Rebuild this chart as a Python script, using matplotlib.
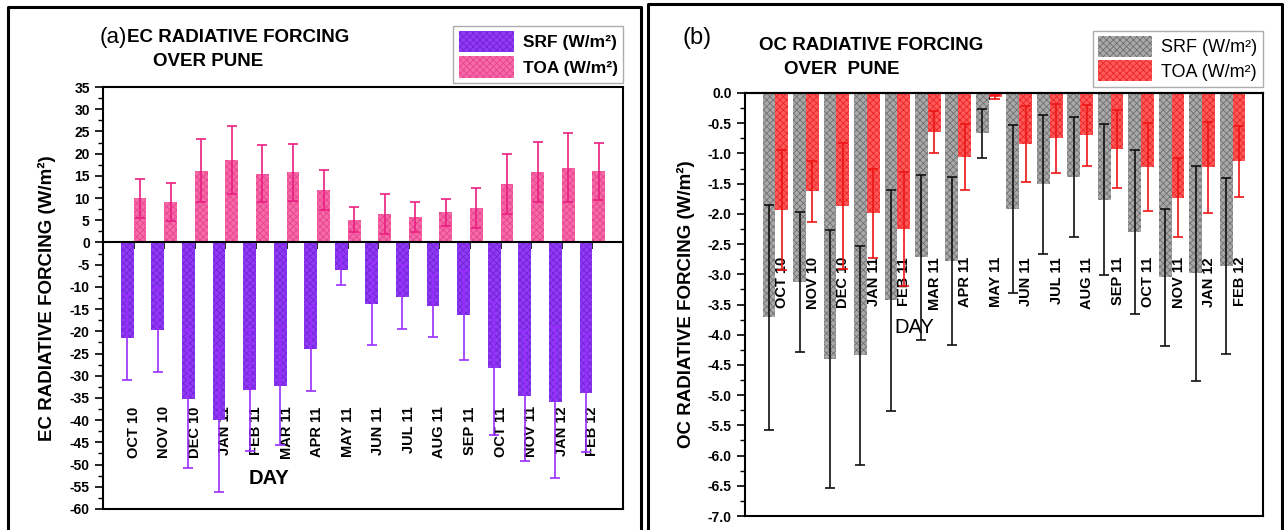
import matplotlib
matplotlib.use("Agg")
import matplotlib.pyplot as plt
import matplotlib.transforms as mtransforms
from matplotlib.lines import Line2D
from matplotlib.ticker import MultipleLocator, FormatStrFormatter
import numpy as np

plt.rcParams['font.family'] = ['Liberation Sans', 'DejaVu Sans']
plt.rcParams['axes.unicode_minus'] = False
plt.rcParams['hatch.linewidth'] = 0.6

months = ["OCT 10", "NOV 10", "DEC 10", "JAN 11", "FEB 11", "MAR 11", "APR 11", "MAY 11",
          "JUN 11", "JUL 11", "AUG 11", "SEP 11", "OCT 11", "NOV 11", "JAN 12", "FEB 12"]

# (a) EC forcing
ec_srf = [-21.4, -19.7, -35.3, -40.0, -33.3, -32.4, -23.9, -6.1,
          -13.8, -12.2, -14.3, -16.4, -28.3, -34.6, -36.0, -33.9]
ec_srf_err = [9.5, 9.5, 15.5, 16.2, 13.7, 13.1, 9.6, 3.4,
              9.3, 7.2, 6.9, 10.0, 15.0, 14.6, 17.0, 13.3]
ec_toa = [9.9, 9.2, 16.2, 18.6, 15.5, 15.8, 11.8, 5.1,
          6.5, 5.8, 6.8, 7.7, 13.1, 15.9, 16.8, 16.0]
ec_toa_err = [4.4, 4.3, 7.2, 7.7, 6.4, 6.4, 4.5, 2.8,
              4.5, 3.4, 3.0, 4.5, 6.8, 6.8, 7.8, 6.4]

# (b) OC forcing
oc_srf = [-3.71, -3.13, -4.40, -4.34, -3.43, -2.72, -2.78, -0.67,
          -1.92, -1.51, -1.39, -1.77, -2.30, -3.05, -2.98, -2.86]
oc_srf_err = [1.86, 1.16, 2.13, 1.81, 1.83, 1.37, 1.39, 0.41,
              1.39, 1.15, 1.00, 1.25, 1.36, 1.13, 1.78, 1.46]
oc_toa = [-1.94, -1.63, -1.87, -1.99, -2.25, -0.65, -1.06, -0.07,
          -0.85, -0.75, -0.70, -0.93, -1.22, -1.73, -1.23, -1.13]
oc_toa_err = [0.99, 0.50, 1.04, 0.74, 0.95, 0.35, 0.55, 0.03,
              0.63, 0.57, 0.50, 0.65, 0.73, 0.65, 0.75, 0.59]

W, H = 1284, 530
fig = plt.figure(figsize=(W / 100, H / 100), dpi=100)

# panel frames
for xs, ys in [([8, 8, 641, 641], [H + 5, 7, 7, H + 5]),
               ([648, 648, 1282, 1282], [H + 5, 4, 4, H + 5])]:
    fig.add_artist(Line2D(np.array(xs) / W, 1 - np.array(ys) / H, color='black', lw=2.2,
                          transform=fig.transFigure, clip_on=False))

x = np.arange(1, len(months) + 1)
w = 0.42


def setup(ax, ylo, yhi, major, minor, fmt, xlab_pad):
    ax.set_xlim(0, 17)
    ax.set_ylim(ylo, yhi)
    ax.yaxis.set_major_locator(MultipleLocator(major))
    ax.yaxis.set_minor_locator(MultipleLocator(minor))
    ax.yaxis.set_major_formatter(FormatStrFormatter(fmt))
    ax.spines['bottom'].set_position(('data', 0))
    for s in ax.spines.values():
        s.set_linewidth(1.5)
    ax.plot([0, 1], [0, 0], transform=ax.transAxes, color='black', lw=1.5, clip_on=False)
    ax.set_xticks(x)
    ax.set_xticklabels(months, rotation=90, fontsize=10.5, fontweight='bold', va='top')
    ax.tick_params(axis='x', direction='out', length=5, width=1.2, pad=xlab_pad)
    ax.tick_params(axis='y', which='major', direction='out', length=6, width=1.2, labelsize=10)
    ax.tick_params(axis='y', which='minor', direction='out', length=3.5, width=1.0)
    for lab in ax.get_yticklabels():
        lab.set_fontweight('bold')


# ---------- (a) ----------
axA = fig.add_axes([103 / W, 21 / H, 520 / W, 422 / H])
axA.bar(x - w / 2, ec_srf, w, color='#8E3BF2', edgecolor='#7420DD', hatch='xxxxx', lw=0,
        label='SRF (W/m²)', zorder=2)
axA.bar(x + w / 2, ec_toa, w, color='#F66AAA', edgecolor='#E8438C', hatch='xxxxx', lw=0,
        label='TOA (W/m²)', zorder=2)
axA.errorbar(x - w / 2, ec_srf, yerr=ec_srf_err, fmt='none', ecolor='#9A2EFF',
             elinewidth=1.2, capsize=3.5, capthick=1.2, zorder=3)
axA.errorbar(x + w / 2, ec_toa, yerr=ec_toa_err, fmt='none', ecolor='#EA1F82',
             elinewidth=1.2, capsize=3.5, capthick=1.2, zorder=3)
setup(axA, -60, 35, 5, 2.5, '%d', 113)
axA.set_ylabel('EC RADIATIVE FORCING (W/m²)', fontsize=13.5, fontweight='bold')
axA.yaxis.set_label_coords(-0.09, 0.5)
axA.set_xlabel('DAY', fontsize=14.5, fontweight='bold')
axA.xaxis.set_label_coords(0.32, 0.095)
legA = axA.legend(loc='lower right', bbox_to_anchor=(1.0, 1.01), frameon=True, fancybox=False,
                  edgecolor='#999999', prop={'weight': 'bold', 'size': 12.5},
                  handlelength=3.2, handleheight=1.5, borderpad=0.3, labelspacing=0.25,
                  handletextpad=0.5, borderaxespad=0)
legA.get_frame().set_linewidth(1.0)

fig.text(100 / W, 1 - 38 / H, '(a)', fontsize=16, va='center', ha='left')
fig.text(127 / W, 1 - 37 / H, 'EC RADIATIVE FORCING', fontsize=13.5, fontweight='bold',
         va='center', ha='left')
fig.text(208 / W, 1 - 62 / H, 'OVER PUNE', fontsize=13.5, fontweight='bold',
         va='center', ha='center')

# ---------- (b) ----------
axB = fig.add_axes([745 / W, 14 / H, 518 / W, 423 / H])
axB.bar(x - w / 2, oc_srf, w, color='#A9A9A9', edgecolor='#707070', hatch='xxxxx', lw=0,
        label='SRF (W/m²)', zorder=2)
axB.bar(x + w / 2, oc_toa, w, color='#FF5A5A', edgecolor='#E82525', hatch='xxxxx', lw=0,
        label='TOA (W/m²)', zorder=2)
axB.errorbar(x - w / 2, oc_srf, yerr=oc_srf_err, fmt='none', ecolor='#111111',
             elinewidth=1.2, capsize=3.5, capthick=1.2, zorder=3)
axB.errorbar(x + w / 2, oc_toa, yerr=oc_toa_err, fmt='none', ecolor='#EE1515',
             elinewidth=1.2, capsize=3.5, capthick=1.2, zorder=3)
setup(axB, -7, 0, 0.5, 0.25, '%.1f', 113)
off = mtransforms.ScaledTranslation(0.07, 0, fig.dpi_scale_trans)
for lab in axB.get_xticklabels():
    lab.set_transform(lab.get_transform() + off)
axB.set_ylabel('OC RADIATIVE FORCING (W/m²)', fontsize=13.5, fontweight='bold')
axB.yaxis.set_label_coords(-0.097, 0.5)
axB.set_xlabel('DAY', fontsize=14.5)
axB.xaxis.set_label_coords(0.326, 0.468)
legB = axB.legend(loc='lower right', bbox_to_anchor=(1.0, 1.015), frameon=True, fancybox=False,
                  edgecolor='#999999', prop={'size': 13},
                  handlelength=3.0, handleheight=1.4, borderpad=0.3, labelspacing=0.2,
                  handletextpad=0.5, borderaxespad=0)
legB.get_frame().set_linewidth(1.0)

fig.text(682 / W, 1 - 38 / H, '(b)', fontsize=17, va='center', ha='left')
fig.text(871 / W, 1 - 45 / H, 'OC RADIATIVE FORCING', fontsize=13.5, fontweight='bold',
         va='center', ha='center')
fig.text(842 / W, 1 - 70 / H, 'OVER  PUNE', fontsize=13.5, fontweight='bold',
         va='center', ha='center')

fig.savefig('out.png', dpi=100)
